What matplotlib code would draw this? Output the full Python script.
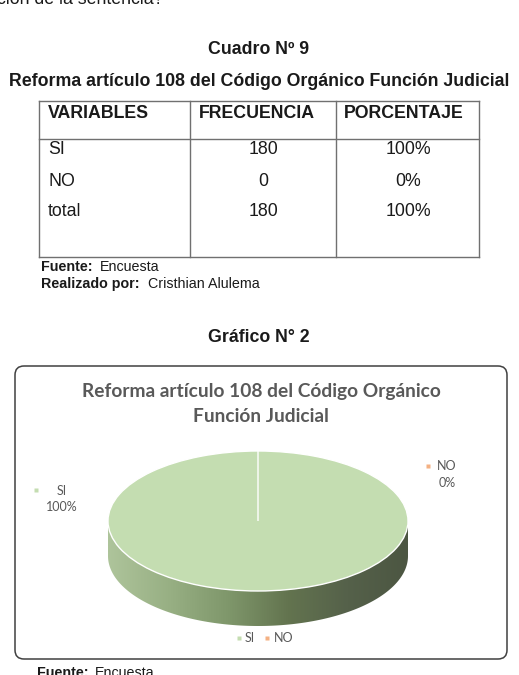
import numpy as np
import matplotlib
matplotlib.use("Agg")
import matplotlib.pyplot as plt
from matplotlib.patches import FancyBboxPatch, Polygon
from matplotlib.colors import LinearSegmentedColormap

# --- data (Cuadro 9 / Grafico 2) ---
variables = ["SI", "NO", "total"]
frecuencia = [180, 0, 180]
porcentaje = ["100%", "0%", "100%"]
categorias = ["SI", "NO"]
valores = [180, 0]
col_headers = ["VARIABLES", "FRECUENCIA", "PORCENTAJE"]
titulo = "Reforma artículo 108 del Código Orgánico Función Judicial"

W, H = 519, 675
fig = plt.figure(figsize=(W / 100, H / 100), dpi=100)
fig.patch.set_facecolor("white")

# page axes in pixel coords (y down)
page = fig.add_axes([0, 0, 1, 1])
page.set_xlim(0, W)
page.set_ylim(H, 0)
page.axis("off")

doc = "Liberation Sans"
ink = "#1a1a1a"
fs = 12.8

page.text(-3, 0, "ción de la sentencia?", family=doc, fontsize=fs, color=ink,
          va="center", ha="left")
page.text(259, 50, "Cuadro Nº 9", family=doc, fontsize=fs, weight="bold",
          color=ink, ha="center", va="center")
page.text(259, 81, titulo, family=doc, fontsize=fs, weight="bold",
          color=ink, ha="center", va="center")

# table
tx = [39, 190, 336, 479]
ty_top, ty_head, ty_bot = 101, 139, 257
lc = "#707070"
for x in tx:
    page.plot([x, x], [ty_top, ty_bot], color=lc, lw=1)
for y in (ty_top, ty_head, ty_bot):
    page.plot([tx[0], tx[-1]], [y, y], color=lc, lw=1)
for x, h in zip([48, 199, 344], col_headers):
    page.text(x, 113, h, family=doc, fontsize=fs, weight="bold", color=ink, va="center")
for i, (v, f, p) in enumerate(zip(variables, frecuencia, porcentaje)):
    y = 150 + i * 31
    page.text(48, y, v, family=doc, fontsize=fs, color=ink, va="center")
    page.text(263, y, str(f), family=doc, fontsize=fs, color=ink,
              va="center", ha="center")
    page.text(408, y, p, family=doc, fontsize=fs, color=ink,
              va="center", ha="center")

fs2 = 10.3
page.text(41, 267, "Fuente:", family=doc, fontsize=fs2, weight="bold", color=ink, va="center")
page.text(100, 267, "Encuesta", family=doc, fontsize=fs2, color=ink, va="center")
page.text(41, 284, "Realizado por:", family=doc, fontsize=fs2, weight="bold", color=ink, va="center")
page.text(148, 284, "Cristhian Alulema", family=doc, fontsize=fs2, color=ink, va="center")

page.text(259, 337, "Gráfico N° 2", family=doc, fontsize=fs, weight="bold",
          color=ink, ha="center", va="center")

# chart frame
page.add_patch(FancyBboxPatch((15, 366), 492, 293, boxstyle="round,pad=0,rounding_size=9",
                              facecolor="white", edgecolor="#404040", lw=1.1))

chart_font = "Lato"
gray = "#595959"
page.text(261, 391, "Reforma artículo 108 del Código Orgánico", family=chart_font,
          fontsize=13.8, weight="bold", color=gray, ha="center", va="center")
page.text(261, 417, "Función Judicial", family=chart_font,
          fontsize=13.8, weight="bold", color=gray, ha="center", va="center")

colores = ["#C4DDB1", "#F4B183"]

# data labels
page.plot(36, 490, marker="s", ms=3, color=colores[0], mec="none")
page.text(62, 491, categorias[0], family=chart_font, fontsize=9, color=gray, ha="center", va="center")
page.text(62, 507, f"{valores[0] / sum(valores):.0%}", family=chart_font, fontsize=9,
          color=gray, ha="center", va="center")
page.plot(428, 466, marker="s", ms=3, color=colores[1], mec="none")
page.text(447, 466, categorias[1], family=chart_font, fontsize=9, color=gray, ha="center", va="center")
page.text(447, 483, f"{valores[1] / sum(valores):.0%}", family=chart_font, fontsize=9,
          color=gray, ha="center", va="center")

# legend
page.plot(239, 638, marker="s", ms=3, color=colores[0], mec="none")
page.text(245, 638, categorias[0], family=chart_font, fontsize=9, color=gray, va="center")
page.plot(267, 638, marker="s", ms=3, color=colores[1], mec="none")
page.text(274, 638, categorias[1], family=chart_font, fontsize=9, color=gray, va="center")

page.text(37, 673, "Fuente:", family=doc, fontsize=fs2, weight="bold", color=ink, va="center")
page.text(95, 673, "Encuesta", family=doc, fontsize=fs2, color=ink, va="center")

# --- 3D-looking pie: ellipse with rx=150px, ry=70px, centre (258, 521) ---
cx, cy, rx, ry = 258, 521, 150, 70
depth = 0.5
ylo, yhi = -1.25 - depth - 0.2, 1.25
ax_w = 2.5 * rx
ax_h = (yhi - ylo) * ry
left = cx - 1.25 * rx
top = cy - yhi * ry
pie_ax = fig.add_axes([left / W, 1 - (top + ax_h) / H, ax_w / W, ax_h / H])

side = Polygon(
    np.vstack([
        [[-1, 0]],
        np.column_stack([np.cos(np.linspace(np.pi, 2 * np.pi, 200)),
                         np.sin(np.linspace(np.pi, 2 * np.pi, 200)) - depth]),
        [[1, 0]],
    ]), closed=True, facecolor="none", edgecolor="none", transform=pie_ax.transData)
pie_ax.add_patch(side)
side_cmap = LinearSegmentedColormap.from_list(
    "side", ["#AEC49B", "#98B084", "#7F976B", "#63744F", "#55614A", "#4C5642"])
grad = np.linspace(0, 1, 256).reshape(1, -1)
im = pie_ax.imshow(grad, extent=[-1, 1, -1 - depth, 0], aspect="auto", cmap=side_cmap,
                   interpolation="bilinear")
im.set_clip_path(side)

pie_ax.pie(valores, colors=colores, startangle=90, counterclock=False,
           wedgeprops=dict(edgecolor="white", linewidth=1.0))
pie_ax.set_aspect("auto")
pie_ax.set_xlim(-1.25, 1.25)
pie_ax.set_ylim(ylo, yhi)
pie_ax.axis("off")

fig.savefig("out.png", dpi=100)
